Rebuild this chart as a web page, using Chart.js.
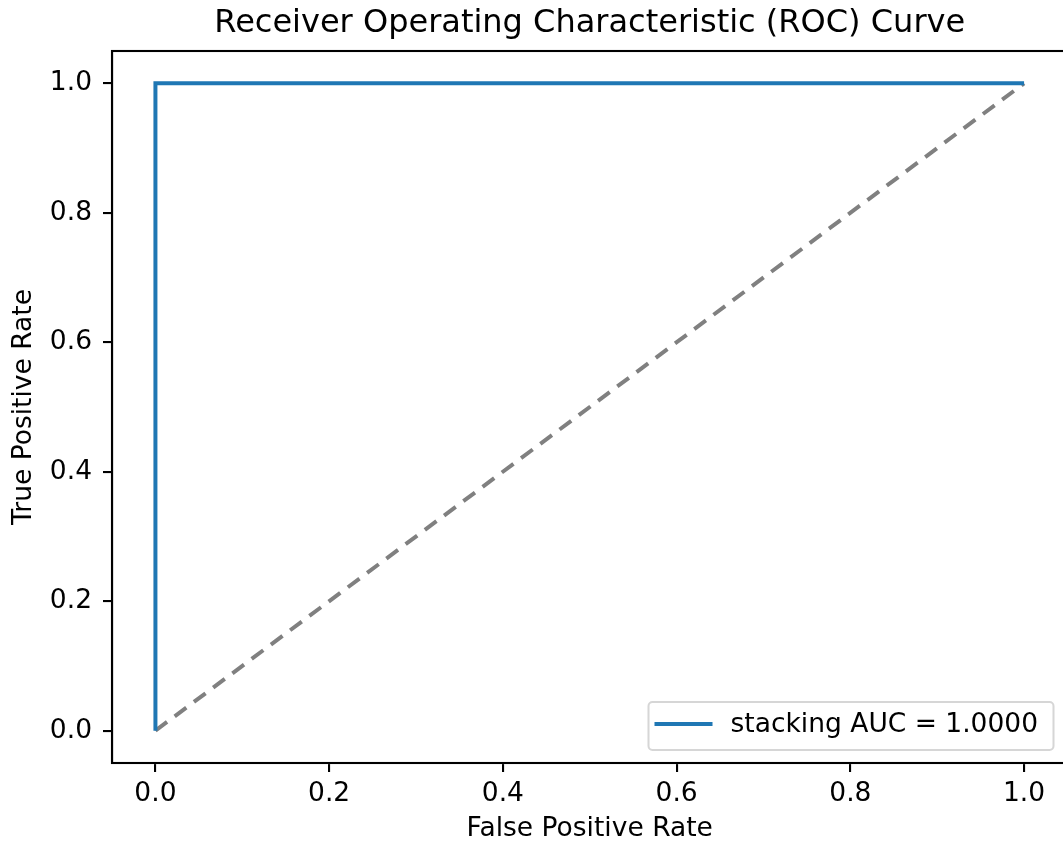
<!DOCTYPE html>
<html>
<head>
<meta charset="utf-8">
<script src="https://cdn.jsdelivr.net/npm/chart.js@4.4.0/dist/chart.umd.min.js"></script>
<style>
  html, body { margin: 0; padding: 0; background: #fff; overflow: hidden; }
  #wrap { width: 1063px; height: 845px; overflow: hidden; }
  #wrap canvas { display: block; }
</style>
</head>
<body>
<div id="wrap"><canvas id="roc" width="1070" height="845"></canvas></div>
<script>
// données de la courbe
const rocFpr = [0.0, 0.0, 1.0];
const rocTpr = [0.0, 1.0, 1.0];
const diagFpr = [0.0, 1.0];
const diagTpr = [0.0, 1.0];
const rocLabel = 'stacking AUC = 1.0000';
const xTickValues = [0.0, 0.2, 0.4, 0.6, 0.8, 1.0];
const yTickValues = [0.0, 0.2, 0.4, 0.6, 0.8, 1.0];

const FONT = "'DejaVu Sans', sans-serif";
const TXT = 26.5;

const toPoints = (xs, ys) => xs.map((x, i) => ({ x: x, y: ys[i] }));

// cadre complet (haut et droite) autour de la zone du graphique
const framePlugin = {
    id: 'frame',
    afterDatasetsDraw(chart) {
        const { ctx, chartArea: a } = chart;
        ctx.save();
        ctx.strokeStyle = '#000';
        ctx.lineWidth = 2.1;
        ctx.strokeRect(a.left, a.top, a.right - a.left, a.bottom - a.top);
        ctx.restore();
    }
};

// légende dans le coin inférieur droit, style matplotlib
const legendBoxPlugin = {
    id: 'legendBox',
    afterDraw(chart) {
        const { ctx, chartArea: a } = chart;
        const ds = chart.data.datasets[0];
        const w = 405, h = 48;
        const x = a.right - 14 - w;
        const y = a.bottom - 13 - h;
        ctx.save();
        ctx.fillStyle = 'rgba(255,255,255,0.8)';
        ctx.strokeStyle = '#d6d6d6';
        ctx.lineWidth = 2;
        ctx.beginPath();
        ctx.roundRect(x, y, w, h, 4);
        ctx.fill();
        ctx.stroke();
        const cy = y + h / 2 - 2;
        ctx.strokeStyle = ds.borderColor;
        ctx.lineWidth = ds.borderWidth;
        ctx.beginPath();
        ctx.moveTo(x + 6, cy);
        ctx.lineTo(x + 64, cy);
        ctx.stroke();
        ctx.fillStyle = '#000';
        ctx.font = TXT + 'px ' + FONT;
        ctx.textBaseline = 'middle';
        ctx.textAlign = 'left';
        ctx.fillText(ds.label, x + 82, cy + 1);
        ctx.restore();
    }
};

const setTicks = values => scale => {
    scale.ticks = values.map(v => ({ value: v }));
};

new Chart(document.getElementById('roc'), {
    type: 'scatter',
    data: {
        datasets: [{
            label: rocLabel,
            data: toPoints(rocFpr, rocTpr),
            showLine: true,
            borderColor: '#1f77b4',
            borderWidth: 4,
            pointRadius: 0,
            tension: 0,
            order: 1
        }, {
            label: 'diagonal',
            data: toPoints(diagFpr, diagTpr),
            showLine: true,
            borderColor: '#808080',
            borderWidth: 4,
            borderDash: [14.5, 9.5],
            pointRadius: 0,
            tension: 0,
            order: 2
        }]
    },
    options: {
        responsive: false,
        animation: false,
        layout: { padding: { left: 0, right: 2.5, top: 0, bottom: 0 } },
        plugins: {
            legend: { display: false },
            tooltip: { enabled: false },
            title: {
                display: true,
                text: 'Receiver Operating Characteristic (ROC) Curve',
                fullSize: false,
                color: '#000',
                font: { family: FONT, size: 32, weight: 'normal', lineHeight: 1.2 },
                padding: { top: 4, bottom: 8.6 }
            }
        },
        scales: {
            x: {
                type: 'linear',
                min: -0.05,
                max: 1.05,
                afterBuildTicks: setTicks(xTickValues),
                afterFit: scale => { scale.height = 82; },
                grid: { drawOnChartArea: false, drawTicks: true, tickLength: 9, color: '#000', lineWidth: 2.1 },
                border: { display: true, color: '#000', width: 2.1 },
                ticks: {
                    color: '#000',
                    padding: 6,
                    font: { family: FONT, size: TXT },
                    callback: v => v.toFixed(1)
                },
                title: {
                    display: true,
                    text: 'False Positive Rate',
                    color: '#000',
                    font: { family: FONT, size: TXT, lineHeight: 1.2 },
                    padding: { top: 0, bottom: 0 }
                }
            },
            y: {
                type: 'linear',
                min: -0.05,
                max: 1.05,
                afterBuildTicks: setTicks(yTickValues),
                afterFit: scale => { scale.width = 112; },
                grid: { drawOnChartArea: false, drawTicks: true, tickLength: 9, color: '#000', lineWidth: 2.1 },
                border: { display: true, color: '#000', width: 2.1 },
                ticks: {
                    color: '#000',
                    padding: 11,
                    font: { family: FONT, size: TXT },
                    callback: v => v.toFixed(1)
                },
                title: {
                    display: true,
                    text: 'True Positive Rate',
                    color: '#000',
                    font: { family: FONT, size: TXT, lineHeight: 1.2 },
                    padding: { top: 8, bottom: 0 }
                }
            }
        }
    },
    plugins: [framePlugin, legendBoxPlugin]
});
</script>
</body>
</html>
